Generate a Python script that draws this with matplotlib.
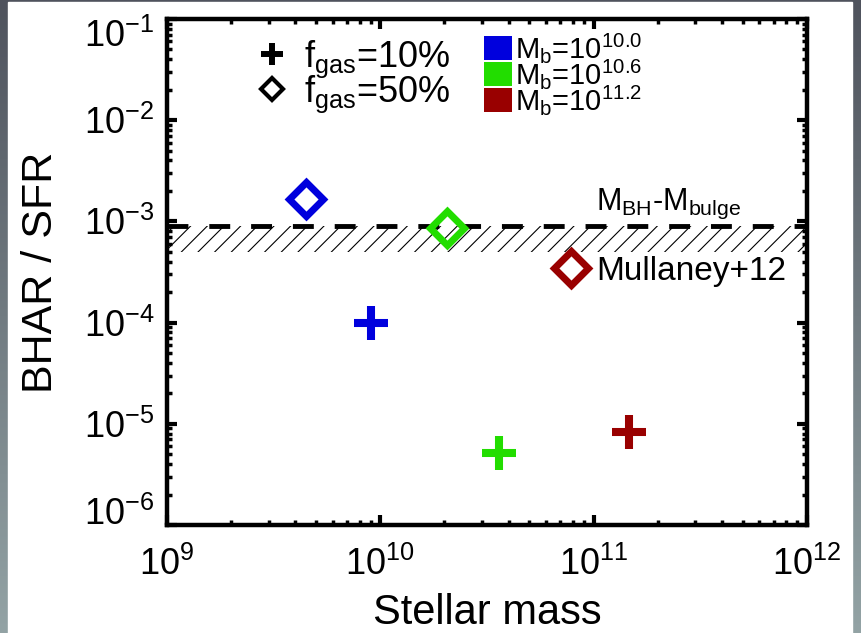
import numpy as np
import matplotlib
matplotlib.use("Agg")
import matplotlib.pyplot as plt
from matplotlib.patches import Rectangle, Patch
from matplotlib.lines import Line2D
from matplotlib.legend import Legend
import matplotlib.ticker as tic

plt.rcParams['font.family'] = 'Liberation Sans'
plt.rcParams['mathtext.fontset'] = 'custom'
plt.rcParams['mathtext.rm'] = 'Liberation Sans'
plt.rcParams['mathtext.it'] = 'Liberation Sans:italic'
plt.rcParams['mathtext.bf'] = 'Liberation Sans:bold'
plt.rcParams['axes.unicode_minus'] = False
plt.rcParams['hatch.linewidth'] = 0.8

# bulge masses of the three runs (log Msun) and their colours
mb_exp = [10.0, 10.6, 11.2]
mb_colors = ['#0000dd', '#22dd00', '#990000']

# f_gas = 10% runs
mstar_10 = [9.0e9, 3.6e10, 1.47e11]
ratio_10 = [1.0e-4, 5.2e-6, 8.3e-6]
# f_gas = 50% runs
mstar_50 = [4.5e9, 2.05e10, 7.8e10]
ratio_50 = [1.65e-3, 8.6e-4, 3.45e-4]

# local M_BH-M_bulge ratio and Mullaney+12 band
mbh_ratio = 9.0e-4
mull_lo, mull_hi = 5.0e-4, 9.0e-4

xlim = [1e9, 1e12]
ylim = [1e-6, 1e-1]
xticks = [1e9, 1e10, 1e11, 1e12]
yticks = [1e-6, 1e-5, 1e-4, 1e-3, 1e-2, 1e-1]

dpi = 100
fig = plt.figure(figsize=(8.61, 6.33), dpi=dpi)

# slate backdrop with a white sheet on top
bg = fig.add_axes([0, 0, 1, 1], zorder=-1)
grad = np.linspace(0, 1, 256).reshape(-1, 1)
cmap = matplotlib.colors.LinearSegmentedColormap.from_list('slate', ['#4f535d', '#93a3a5'])
bg.imshow(grad, aspect='auto', cmap=cmap, extent=[0, 1, 0, 1], origin='upper')
bg.add_patch(Rectangle((8 / 861, 0), 844 / 861, 631 / 633, color='white', transform=bg.transAxes))
bg.set_xlim(0, 1)
bg.set_ylim(0, 1)
bg.axis('off')

ax = fig.add_axes([0.194, 0.1706, 0.743, 0.7994])
ax.set_xscale('log')
ax.set_yscale('log')
ax.set_xlim(xlim)
ax.set_ylim(ylim)

ax.fill_between(xlim, mull_lo, mull_hi, facecolor='none', edgecolor='black',
                hatch='//', linewidth=0, zorder=1)
ax.axhline(mbh_ratio, color='black', lw=3.5, dashes=(4.3, 4.3), zorder=2)

for x, y, c in zip(mstar_10, ratio_10, mb_colors):
    ax.plot(x, y, ls='none', marker='+', ms=24.5, mew=5.8, color=c, zorder=3)
for x, y, c in zip(mstar_50, ratio_50, mb_colors):
    ax.plot(x, y, ls='none', marker='D', ms=17, mew=5, mfc='none', mec=c, zorder=3)

ax.text(2.25e11, 1.3e-3, r'M$_\mathregular{BH}$-M$_\mathregular{bulge}$', fontsize=22,
        ha='center', va='baseline')
ax.text(1.03e11, 2.64e-4, 'Mullaney+12', fontsize=24, ha='left', va='baseline')

ax.set_xticks(xticks)
ax.set_yticks(yticks)
ax.xaxis.set_minor_locator(tic.LogLocator(base=10, subs=np.arange(2, 10)))
ax.yaxis.set_minor_locator(tic.LogLocator(base=10, subs=np.arange(2, 10)))
ax.xaxis.set_minor_formatter(tic.NullFormatter())
ax.yaxis.set_minor_formatter(tic.NullFormatter())
ax.tick_params(which='both', direction='in', top=True, right=True)
ax.tick_params(which='major', length=7, width=3, labelsize=26)
ax.tick_params(axis='x', which='major', pad=16)
ax.tick_params(axis='y', which='major', pad=9)
ax.tick_params(which='minor', length=3.5, width=2.5)
for s in ax.spines.values():
    s.set_linewidth(3.2)

# keep the end labels inside the frame
yt = ax.yaxis.get_major_ticks()
yt[0].label1.set_va('baseline')
yt[-1].label1.set_va('top')

ax.set_xlabel('Stellar mass', fontsize=30)
ax.set_ylabel('BHAR / SFR', fontsize=31)
ax.xaxis.set_label_coords(0.5, -0.135)
ax.yaxis.set_label_coords(-0.165, 0.5)


def place_legend(handles, labels, pitch_px, fs, **kw):
    def build(spacing):
        leg = Legend(ax, handles, labels, fontsize=fs, labelspacing=spacing,
                     frameon=False, borderpad=0, borderaxespad=0, **kw)
        ax.add_artist(leg)
        return leg
    leg = build(0.0)
    fig.canvas.draw()
    ys = [t.get_window_extent().y0 for t in leg.get_texts()]
    pitch = ys[0] - ys[1]
    leg.remove()
    return build((pitch_px - pitch) / (fs * dpi / 72))


gas_handles = [
    Line2D([], [], ls='none', marker='+', ms=16.5, mew=4.3, color='black'),
    Line2D([], [], ls='none', marker='D', ms=10.8, mew=3, mfc='none', mec='black'),
]
gas_labels = [r'f$_\mathregular{gas}$=10%', r'f$_\mathregular{gas}$=50%']
place_legend(gas_handles, gas_labels, 35, 26, loc='upper left',
             bbox_to_anchor=(0.138, 0.962), handlelength=0.9, handletextpad=0.45)

mb_handles = [Patch(facecolor=c, edgecolor='none') for c in mb_colors]
mb_labels = [r'M$_\mathregular{b}$=10$^\mathregular{%.1f}$' % e for e in mb_exp]
place_legend(mb_handles, mb_labels, 26, 21, loc='upper left',
             bbox_to_anchor=(0.495, 0.976), handlelength=0.96, handleheight=0.89,
             handletextpad=0.1)

fig.savefig('out.png', dpi=dpi)
